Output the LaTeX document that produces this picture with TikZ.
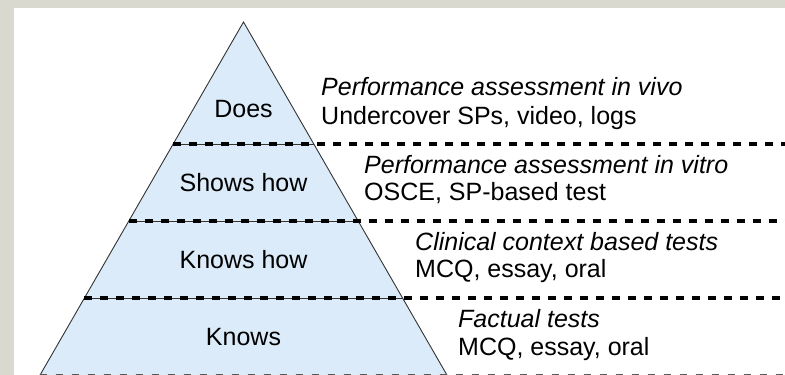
\documentclass[tikz,border=0pt]{standalone}
\usepackage{fontspec}
\setmainfont{Liberation Sans}
\usetikzlibrary{positioning}
\definecolor{panelgray}{HTML}{DAD9CF}
\definecolor{pyrblue}{HTML}{DBEBF9}

\begin{document}
\begin{tikzpicture}[x=1pt,y=-1pt,
levelname/.style={font=\fontsize{25}{29}\selectfont, inner sep=0pt, anchor=base},
testtitle/.style={font=\fontsize{25}{29}\selectfont\itshape, inner sep=0pt, anchor=base west},
testlist/.style={font=\fontsize{25}{29}\selectfont, inner sep=0pt, anchor=base west},
bigdash/.style={line width=3.4pt, dash pattern=on 8pt off 8pt},
thinline/.style={line width=0.8pt, draw=black!80}]
\fill[panelgray] (0,0) rectangle (785,375);
\fill[white] (14,8) rectangle (785,375);
\useasboundingbox (0,0) rectangle (785,375);
\clip (0,0) rectangle (785,375);

\coordinate (apex) at (243.5,22);
\coordinate (bl) at (39.5,376);
\coordinate (br) at (447.5,376);
\coordinate (edge) at (785,0);

% pyramid
\filldraw[fill=pyrblue, draw=black!80, line width=0.9pt] (apex) -- (bl) -- (br) -- cycle;
\path (apex) -- (bl) coordinate[pos=0.345] (l1) coordinate[pos=0.562] (l2) coordinate[pos=0.780] (l3);
\path (apex) -- (br) coordinate[pos=0.345] (r1) coordinate[pos=0.562] (r2) coordinate[pos=0.780] (r3);

\foreach \i in {1,2,3} {
  \draw[thinline] (l\i) -- (r\i);
  \draw[bigdash] (l\i) -- (l\i -| edge);
}
\draw[black!65, line width=1.4pt, dash pattern=on 7pt off 9pt] ([yshift=1.5pt]bl) -- ([yshift=1.5pt]bl -| edge);

% levels
\node[levelname] (does) at (243.5,117) {Does};
\node[levelname] (shows) at (243.5,191) {Shows how};
\node[levelname] (knowshow) at (243.5,268) {Knows how};
\node[levelname] (knows) at (243.5,345) {Knows};

% tests
\node[testtitle] (t1) at (321,95) {Performance assessment in vivo};
\node[testlist] (d1) at ([yshift=-29pt]t1.base west) {Undercover SPs, video, logs};
\node[testtitle] (t2) at (364,173) {Performance assessment in vitro};
\node[testlist] (d2) at ([yshift=-27pt]t2.base west) {OSCE, SP-based test};
\node[testtitle] (t3) at (415,250) {Clinical context based tests};
\node[testlist] (d3) at ([yshift=-27pt]t3.base west) {MCQ, essay, oral};
\node[testtitle] (t4) at (458,327) {Factual tests};
\node[testlist] (d4) at ([yshift=-28pt]t4.base west) {MCQ, essay, oral};
\end{tikzpicture}
\end{document}
